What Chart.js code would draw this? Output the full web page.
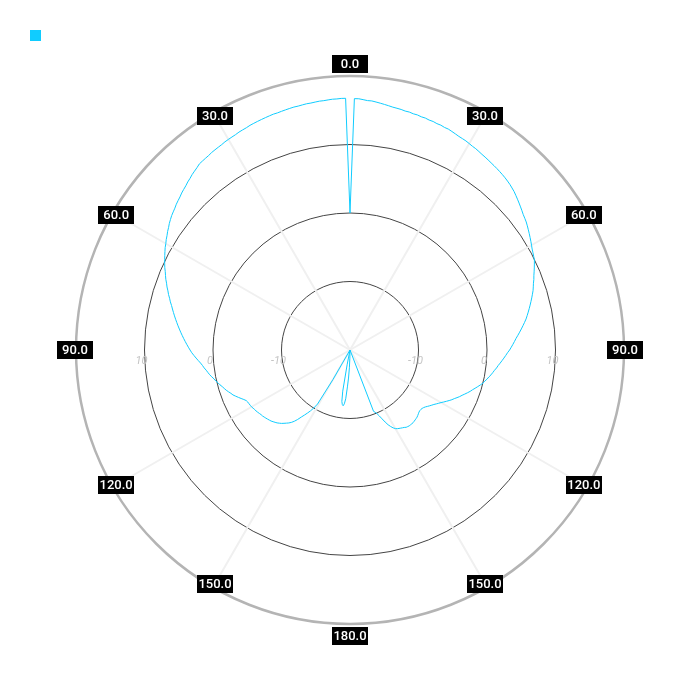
<!DOCTYPE html>
<html>
<head>
<meta charset="utf-8">
<title>Radiation pattern</title>
<script src="https://cdn.jsdelivr.net/npm/chart.js@4/dist/chart.umd.min.js"></script>
<style>
  html, body { margin: 0; padding: 0; background: #fff; }
  #wrap { position: relative; width: 700px; height: 700px; }
  #legend { position: absolute; left: 30px; top: 30px; margin: 0; padding: 0; list-style: none; display: flex; }
  #legend li { display: flex; align-items: center; margin-right: 10px; font: 12px Roboto, sans-serif; }
  #legend span { display: inline-block; width: 11px; height: 11px; }
</style>
</head>
<body>
<div id="wrap">
  <canvas id="patternChart"></canvas>
  <ul id="legend"></ul>
</div>
<script>
// angle labels printed round the plot (every 30 deg, clockwise from top)
const angleTickLabels = ['0.0', '30.0', '60.0', '90.0', '120.0', '150.0', '180.0', '150.0', '120.0', '90.0', '60.0', '30.0'];
const angleStep = 30;
// radial ticks written along the horizontal diameter
const radialTickValues = [-10, 0, 10];
// one sample per degree, 0..359
const angles = Array.from({ length: 360 }, (_, i) => i);

// gain in dB at each degree
const gainDb = [
    0, 16.7, 16.7, 16.6, 16.5, 16.5, 16.4, 16.3, 16.2, 16.1,
    16.0, 15.95, 15.9, 15.8, 15.8, 15.7, 15.7, 15.6, 15.6, 15.5,
    15.5, 15.4, 15.4, 15.3, 15.3, 15.2, 15.1, 15.0, 14.95, 14.9,
    14.8, 14.7, 14.65, 14.55, 14.45, 14.38, 14.3, 14.22, 14.15, 14.08,
    14.0, 13.92, 13.83, 13.72, 13.6, 13.45, 13.3, 13.1, 12.9, 12.7,
    12.5, 12.3, 12.1, 11.95, 11.8, 11.6, 11.4, 11.2, 11.0, 10.8,
    10.6, 10.4, 10.25, 10.1, 9.95, 9.7, 9.45, 9.2, 8.95, 8.75,
    8.5, 8.3, 8.1, 7.85, 7.6, 7.35, 7.1, 6.85, 6.6, 6.35,
    6.1, 5.8, 5.5, 5.2, 4.9, 4.6, 4.3, 4.05, 3.8, 3.55,
    3.3, 3.0, 2.75, 2.5, 2.25, 2.0, 1.75, 1.55, 1.3, 1.1,
    0.9, 0.65, 0.45, 0.2, 0, -0.3, -0.6, -0.9, -1.2, -1.45,
    -1.75, -2.05, -2.35, -2.6, -2.9, -3.2, -3.45, -3.75, -4.05, -4.35,
    -4.65, -4.9, -5.15, -5.4, -5.6, -5.8, -6.0, -6.2, -6.35, -6.45,
    -6.5, -6.5, -6.45, -6.35, -6.25, -6.15, -6.1, -6.05, -6.0, -5.95,
    -5.95, -5.95, -5.95, -6.0, -6.05, -6.2, -6.3, -6.4, -6.5, -6.6,
    -6.75, -7.0, -7.35, -7.75, -8.3, -8.9, -9.45, -9.9, -10.2, -10.4,
    -20, -20, -20, -20, -20, -20, -20, -20, -20, -20,
    -20, -20, -20, -20, -20, -20, -20, -20, -20, -20,
    -20, -18.8, -17.4, -15.9, -14.6, -12.85, -12.1, -11.8, -11.95, -12.4,
    -13.9, -17.8, -20, -20, -20, -20, -20, -20, -20, -20,
    -20, -20, -20, -20, -20, -20, -20, -20, -20, -20,
    -15, -10.8, -10.0, -9.4, -8.9, -8.4, -7.9, -7.3, -6.8, -6.4,
    -6.1, -5.85, -5.6, -5.35, -5.15, -4.95, -4.8, -4.65, -4.5, -4.4,
    -4.3, -4.2, -4.1, -4.0, -3.95, -3.85, -3.75, -3.65, -3.6, -3.5,
    -3.4, -3.35, -3.3, -3.25, -3.15, -2.9, -2.6, -2.3, -2.0, -1.7,
    -1.5, -1.25, -1.0, -0.8, -0.6, -0.35, -0.15, 0.1, 0.3, 0.55,
    0.8, 1.0, 1.2, 1.45, 1.65, 1.9, 2.2, 2.5, 2.8, 3.1,
    3.35, 3.6, 3.85, 4.1, 4.35, 4.6, 4.85, 5.1, 5.35, 5.6,
    5.85, 6.1, 6.35, 6.6, 6.85, 7.15, 7.4, 7.7, 7.95, 8.25,
    8.5, 8.8, 9.05, 9.3, 9.6, 9.85, 10.1, 10.35, 10.6, 10.85,
    11.05, 11.3, 11.5, 11.75, 11.95, 12.2, 12.4, 12.6, 12.75, 12.9,
    13.1, 13.25, 13.4, 13.6, 13.75, 13.9, 14.1, 14.25, 14.45, 14.6,
    14.75, 14.95, 15.0, 15.05, 15.1, 15.2, 15.25, 15.3, 15.35, 15.45,
    15.5, 15.55, 15.6, 15.7, 15.75, 15.8, 15.9, 15.95, 16.0, 16.05,
    16.1, 16.15, 16.2, 16.2, 16.25, 16.3, 16.35, 16.4, 16.4, 16.45,
    16.5, 16.5, 16.55, 16.6, 16.6, 16.65, 16.7, 16.7, 16.75, 16.75
];

const lineColor = '#10ccff';

// black boxed angle labels sitting on the outer ring
const angleLabelPlugin = {
    id: 'angleLabels',
    afterDraw(chart) {
        const scale = chart.scales.r;
        const ctx = chart.ctx;
        ctx.save();
        ctx.font = '500 13px Roboto, sans-serif';
        ctx.textAlign = 'center';
        ctx.textBaseline = 'middle';
        angleTickLabels.forEach((text, i) => {
            const index = i * angleStep;
            let off = -4;
            if (index % 180 === 0) off = 12;
            else if (index % 90 === 0) off = 1;
            const p = scale.getPointPosition(index, scale.drawingArea + off);
            ctx.fillStyle = '#000';
            ctx.fillRect(Math.round(p.x - 18), Math.round(p.y - 9), 36, 18);
            ctx.fillStyle = '#fff';
            ctx.fillText(text, p.x, p.y + 1);
        });
        ctx.restore();
    }
};

// radial tick values mirrored on both sides of the centre
const radialTickPlugin = {
    id: 'radialTicks',
    beforeDatasetsDraw(chart) {
        const scale = chart.scales.r;
        const ctx = chart.ctx;
        ctx.save();
        ctx.font = 'italic 11px Roboto, sans-serif';
        ctx.fillStyle = '#c4c4c4';
        ctx.textAlign = 'center';
        ctx.textBaseline = 'middle';
        radialTickValues.forEach(v => {
            const d = scale.getDistanceFromCenterForValue(v);
            ctx.fillText(String(v), scale.xCenter + d - 3, scale.yCenter + 11);
            ctx.fillText(String(v), scale.xCenter - d - 3, scale.yCenter + 11);
        });
        ctx.restore();
    }
};

const htmlLegendPlugin = {
    id: 'htmlLegend',
    afterUpdate(chart) {
        const ul = document.getElementById('legend');
        while (ul.firstChild) ul.firstChild.remove();
        chart.options.plugins.legend.labels.generateLabels(chart).forEach(item => {
            const li = document.createElement('li');
            const box = document.createElement('span');
            box.style.background = item.fillStyle;
            li.appendChild(box);
            if (item.text) li.appendChild(document.createTextNode(' ' + item.text));
            ul.appendChild(li);
        });
    }
};

new Chart(document.getElementById('patternChart'), {
    type: 'radar',
    data: {
        labels: angles,
        datasets: [{
            label: '',
            data: gainDb,
            borderColor: lineColor,
            backgroundColor: lineColor,
            borderWidth: 1,
            pointRadius: 0,
            pointHoverRadius: 0,
            fill: false,
            tension: 0
        }]
    },
    options: {
        responsive: true,
        maintainAspectRatio: false,
        animation: false,
        layout: { padding: 76 },
        plugins: {
            legend: { display: false },
            tooltip: { enabled: false }
        },
        scales: {
            r: {
                min: -20,
                max: 20,
                ticks: { display: false, stepSize: 10 },
                pointLabels: { display: false },
                grid: {
                    circular: true,
                    color: ctx => ctx.tick && ctx.tick.value === 20 ? '#b4b4b4' : '#444',
                    lineWidth: ctx => ctx.tick && ctx.tick.value === 20 ? 2.5 : 1
                },
                angleLines: {
                    color: '#f0f0f0',
                    // no lines on the vertical and horizontal axes
                    lineWidth: ctx => ctx.index % angleStep === 0 && ctx.index % 90 !== 0 ? 2 : 0
                }
            }
        }
    },
    plugins: [htmlLegendPlugin, radialTickPlugin, angleLabelPlugin]
});
</script>
</body>
</html>
